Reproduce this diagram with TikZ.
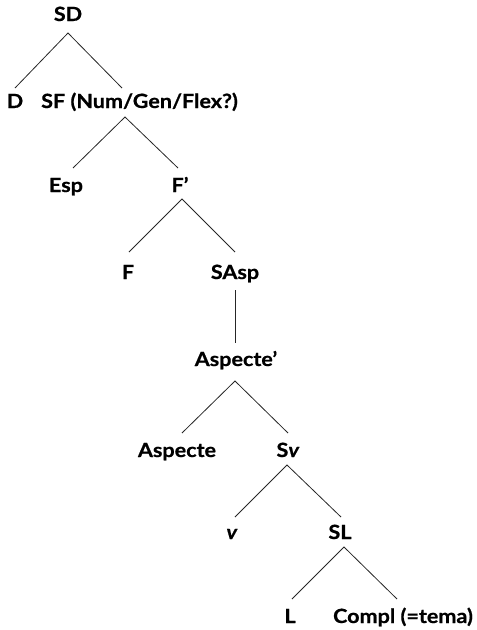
\documentclass[tikz,border=0pt]{standalone}
\usepackage{fontspec}
\setmainfont{Lato}[FakeStretch=1.1, BoldFeatures={FakeBold=0.7}, BoldItalicFeatures={FakeBold=0.7}]
\usetikzlibrary{calc}
\tikzset{
  lbl/.style={anchor=base, inner sep=0pt, font=\fontsize{19.6}{22}\selectfont\bfseries},
  br/.style={line width=0.8pt, draw=black!85}
}
\begin{document}
\begin{tikzpicture}[x=1pt,y=-1pt]
\useasboundingbox (0,0) rectangle (477,630);
% nodes
\node[lbl] (sd) at (68,21) {SD};
\node[lbl] (d) at (15,108) {D};
\node[lbl, anchor=base west] (sf) at (41,108) {SF (Num/Gen/Flex?)};
\node[lbl] (esp) at (66,192) {Esp};
\node[lbl] (fp) at (180,192) {F’};
\node[lbl] (f) at (128,279) {F};
\node[lbl] (sasp) at (235,279) {SAsp};
\node[lbl] (asp1) at (236,366) {Aspecte’};
\node[lbl] (aspecte) at (177,457) {Aspecte};
\node[lbl] (sv) at (288,457) {S\textit{v}};
\node[lbl] (v) at (232,539) {\textit{v}};
\node[lbl] (sl) at (340,539) {SL};
\node[lbl] (l) at (290,623) {L};
\node[lbl] (compl) at (403,623) {Compl (=tema)};
% attachment points
\coordinate (sd-s) at ($(sd.base)+(0,12)$);
\coordinate (d-n) at ($(d.base)+(0,-20)$);
\coordinate (sf-n) at ($(sf.base west)+(81,-20)$);
\coordinate (sf-s) at ($(sf.base west)+(84,9)$);
\coordinate (esp-n) at ($(esp.base)+(7,-24)$);
\coordinate (fp-n) at ($(fp.base)+(-2,-24)$);
\coordinate (fp-s) at ($(fp.base)+(2,7)$);
\coordinate (f-n) at ($(f.base)+(1,-27)$);
\coordinate (sasp-n) at ($(sasp.base)+(0,-27)$);
\coordinate (sasp-s) at ($(sasp.base)+(0,11)$);
\coordinate (asp1-n) at ($(asp1.base)+(-1,-23)$);
\coordinate (asp1-s) at ($(asp1.base)+(-1,15)$);
\coordinate (aspecte-n) at ($(aspecte.base)+(5,-24)$);
\coordinate (sv-n) at ($(sv.base)+(0,-24)$);
\coordinate (sv-s) at ($(sv.base)+(-1,8)$);
\coordinate (v-n) at ($(v.base)+(3,-22)$);
\coordinate (sl-n) at ($(sl.base)+(1,-22)$);
\coordinate (sl-s) at ($(sl.base)+(4,8)$);
\coordinate (l-n) at ($(l.base)+(2,-24)$);
\coordinate (compl-n) at ($(compl.base)+(-6,-24)$);
% branches
\draw[br] (d-n) -- (sd-s) -- (sf-n);
\draw[br] (esp-n) -- (sf-s) -- (fp-n);
\draw[br] (f-n) -- (fp-s) -- (sasp-n);
\draw[br] (sasp-s) -- (asp1-n);
\draw[br] (aspecte-n) -- (asp1-s) -- (sv-n);
\draw[br] (v-n) -- (sv-s) -- (sl-n);
\draw[br] (l-n) -- (sl-s) -- (compl-n);
\end{tikzpicture}
\end{document}
